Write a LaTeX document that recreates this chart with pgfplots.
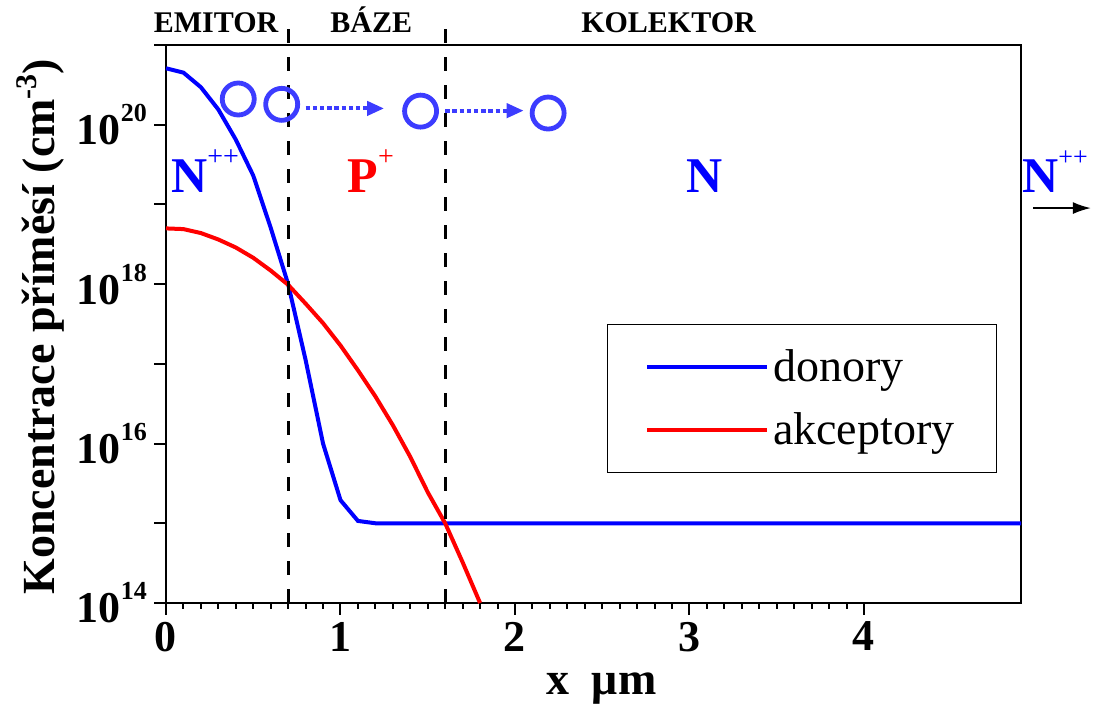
\documentclass[border=0pt]{standalone}
\usepackage{fontspec}
\setmainfont{Liberation Serif}
\usepackage{pgfplots}
\pgfplotsset{compat=1.18}
\usetikzlibrary{arrows.meta}
\definecolor{circblue}{RGB}{60,60,255}
\newcommand{\sups}[1]{\raisebox{11.5pt}{\fontsize{13}{13}\selectfont #1}}
\begin{document}
\begin{tikzpicture}
\begin{axis}[
  scale only axis, width=427.5pt, height=279pt,
  xmin=0, xmax=4.9, ymin=1e14, ymax=1e21,
  ymode=log, log basis y=10,
  xtick={0,1,2,3,4}, minor x tick num=9,
  ytick={1e14,1e15,1e16,1e17,1e18,1e19,1e20,1e21},
  yticklabels={10\sups{14},{},10\sups{16},{},10\sups{18},{},10\sups{20},{}},
  tick align=outside, xtick pos=bottom, ytick pos=left,
  major tick length=6pt, minor tick length=3pt,
  every tick/.style={black, line width=1pt},
  axis line style={line width=1.2pt},
  tick label style={font=\fontsize{22}{26}\selectfont\bfseries},
  /pgf/number format/assume math mode=true,
  xlabel={x\hspace{0.5em}μm},
  ylabel={Koncentrace příměsí (cm\raisebox{9pt}{\fontsize{15}{15}\selectfont -3})},
  xlabel style={at={(axis description cs:0.509,0)}, anchor=base, yshift=-46pt, font=\fontsize{23}{28}\selectfont\bfseries},
  ylabel style={at={(axis description cs:-0.130,0.495)}, anchor=base, font=\fontsize{23}{28}\selectfont\bfseries},
  legend style={draw=black, line width=0.6pt, at={(rel axis cs:0.972,0.233)}, anchor=south east,
    font=\fontsize{23}{28}\selectfont, inner xsep=19pt, inner ysep=10.5pt, row sep=10pt,
    cells={anchor=west}},
  legend image code/.code={\draw[#1] (0pt,0pt) -- (60pt,0pt);},
  clip=false,
]
\addplot[blue, line width=2pt] coordinates {
 (0,5.1e20) (0.1,4.5e20) (0.2,2.95e20) (0.3,1.55e20) (0.4,6.5e19) (0.5,2.3e19)
 (0.6,5.1e18) (0.7,1.0e18) (0.8,1.12e17) (0.9,1.0e16) (1.0,1.95e15) (1.1,1.07e15)
 (1.2,1.0e15) (4.9,1.0e15)};
\addlegendentry{donory}
\addplot[red, line width=2pt] coordinates {
 (0,5.0e18) (0.1,4.9e18) (0.2,4.37e18) (0.3,3.63e18) (0.4,2.88e18) (0.5,2.14e18)
 (0.6,1.48e18) (0.7,9.8e17) (0.8,5.7e17) (0.9,3.24e17) (1.0,1.7e17) (1.1,8.3e16)
 (1.2,3.9e16) (1.3,1.7e16) (1.4,6.8e15) (1.5,2.45e15) (1.6,1.0e15) (1.7,3.24e14)
 (1.8,1.0e14)};
\addlegendentry{akceptory}
% region boundaries
\addplot[black, line width=1.4pt, dash pattern=on 7pt off 7pt, forget plot] coordinates {(0.7,1e14) (0.7,2e21)};
\addplot[black, line width=1.4pt, dash pattern=on 7pt off 7pt, forget plot] coordinates {(1.6,1e14) (1.6,2e21)};
% electrons
\addplot[only marks, mark=o, mark size=8pt, circblue, mark options={line width=2.4pt}, forget plot] coordinates {
 (0.414,2.1e20) (0.663,1.8e20) (1.459,1.48e20) (2.19,1.4e20)};
\draw[circblue, line width=2pt, dash pattern=on 2.2pt off 1.4pt, -{Triangle[length=8.5pt,width=7pt]}] (axis cs:0.80,1.6e20) -- (axis cs:1.25,1.6e20);
\draw[circblue, line width=2pt, dash pattern=on 2.2pt off 1.4pt, -{Triangle[length=8.5pt,width=7pt]}] (axis cs:1.60,1.5e20) -- (axis cs:2.05,1.5e20);
% labels
\node[anchor=base west, text=blue, font=\fontsize{25}{30}\selectfont\bfseries] at (axis cs:-0.01,1.4e19) {N\raisebox{0.55em}{\fontsize{14}{14}\selectfont\mdseries ++}};
\node[anchor=base west, text=red, font=\fontsize{25}{30}\selectfont\bfseries] at (axis cs:1.0,1.4e19) {P\raisebox{0.55em}{\fontsize{14}{14}\selectfont\mdseries +}};
\node[anchor=base west, text=blue, font=\fontsize{25}{30}\selectfont\bfseries] at (axis cs:2.945,1.4e19) {N};
\node[anchor=base west, inner sep=0pt, text=blue, font=\fontsize{25}{30}\selectfont\bfseries] at (axis cs:4.905,1.4e19) {N\raisebox{0.55em}{\fontsize{13}{13}\selectfont\mdseries ++}};
\draw[black, line width=0.8pt, -{Latex[length=9pt,width=6pt]}] (axis cs:4.97,9e18) -- (axis cs:5.30,9e18);
\node[anchor=base, font=\fontsize{15}{18}\selectfont\bfseries] at (axis cs:0.287,1.45e21) {EMITOR};
\node[anchor=base, font=\fontsize{15}{18}\selectfont\bfseries] at (axis cs:1.176,1.45e21) {BÁZE};
\node[anchor=base, font=\fontsize{15}{18}\selectfont\bfseries] at (axis cs:2.88,1.45e21) {KOLEKTOR};
\end{axis}
\pgfresetboundingbox
\path[use as bounding box] ([xshift=-83pt,yshift=-52pt]current axis.south west) rectangle ([xshift=36pt,yshift=22.5pt]current axis.north east);
\end{tikzpicture}
\end{document}
